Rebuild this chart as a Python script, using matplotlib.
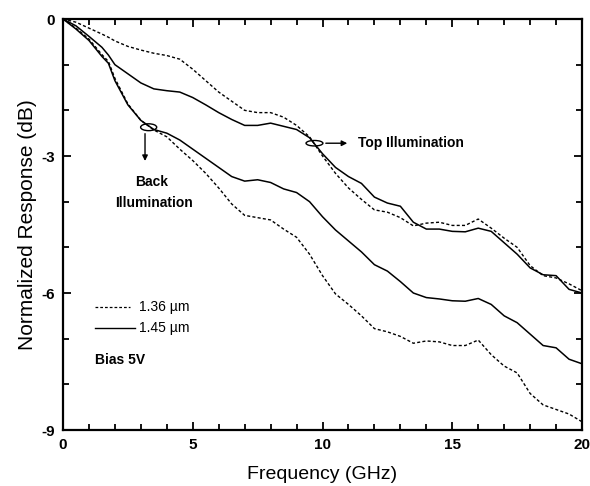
import matplotlib
matplotlib.use('Agg')
import matplotlib.pyplot as plt
from matplotlib.patches import Ellipse
from matplotlib.ticker import MultipleLocator

plt.rcParams['font.family'] = ['Liberation Sans', 'DejaVu Sans']
plt.rcParams['axes.unicode_minus'] = False

# Frequency grid (GHz)
freq = [0, 0.5, 1.0, 1.5, 1.75, 2.0, 2.5, 3.0, 3.5, 4.0, 4.5, 5.0, 5.5, 6.0, 6.5, 7.0,
        7.5, 8.0, 8.5, 9.0, 9.5, 10.0, 10.5, 11.0, 11.5, 12.0, 12.5, 13.0, 13.5,
        14.0, 14.5, 15.0, 15.5, 16.0, 16.5, 17.0, 17.5, 18.0, 18.5, 19.0, 19.5, 20.0]

# Top illumination
top_136 = [0, -0.07, -0.2, -0.33, -0.4, -0.48, -0.6, -0.68, -0.75, -0.8, -0.88, -1.1,
           -1.35, -1.6, -1.8, -2.0, -2.05, -2.05, -2.15, -2.33, -2.58, -3.0, -3.38,
           -3.7, -3.95, -4.18, -4.23, -4.35, -4.53, -4.47, -4.45, -4.52, -4.52, -4.38,
           -4.58, -4.8, -5.0, -5.4, -5.62, -5.67, -5.8, -5.95]
top_145 = [0, -0.15, -0.38, -0.62, -0.79, -1.0, -1.2, -1.4, -1.53, -1.57, -1.6, -1.72,
           -1.88, -2.05, -2.2, -2.33, -2.33, -2.28, -2.35, -2.42, -2.6, -2.95, -3.25,
           -3.45, -3.6, -3.9, -4.03, -4.1, -4.45, -4.6, -4.6, -4.65, -4.66, -4.58,
           -4.65, -4.9, -5.15, -5.45, -5.6, -5.62, -5.92, -6.0]

# Back illumination
back_136 = [0, -0.2, -0.44, -0.78, -0.93, -1.3, -1.86, -2.22, -2.43, -2.58, -2.85, -3.1,
            -3.38, -3.7, -4.05, -4.3, -4.35, -4.4, -4.6, -4.78, -5.15, -5.62, -6.02,
            -6.25, -6.5, -6.78, -6.85, -6.95, -7.1, -7.05, -7.07, -7.15, -7.15, -7.03,
            -7.35, -7.6, -7.75, -8.2, -8.45, -8.55, -8.65, -8.82]
back_145 = [0, -0.22, -0.47, -0.82, -0.97, -1.35, -1.88, -2.22, -2.42, -2.5, -2.65, -2.85,
            -3.05, -3.25, -3.45, -3.55, -3.52, -3.58, -3.72, -3.8, -4.0, -4.33, -4.62,
            -4.86, -5.1, -5.38, -5.52, -5.75, -6.0, -6.1, -6.13, -6.17, -6.18, -6.12,
            -6.25, -6.5, -6.65, -6.9, -7.15, -7.2, -7.45, -7.55]

dash = (0, (2.2, 1.6))

fig = plt.figure(figsize=(5.9, 4.86), dpi=100)
ax = fig.add_axes([0.1068, 0.1152, 0.8797, 0.8457])

ax.plot(freq, top_136, color='black', linewidth=1.0, linestyle=dash)
ax.plot(freq, top_145, color='black', linewidth=1.1)
ax.plot(freq, back_136, color='black', linewidth=1.0, linestyle=dash)
ax.plot(freq, back_145, color='black', linewidth=1.1)

# markers for the two groups of curves
ax.add_patch(Ellipse((3.3, -2.37), 0.62, 0.15, fill=False, edgecolor='black', linewidth=1.0))
ax.add_patch(Ellipse((9.69, -2.72), 0.65, 0.12, fill=False, edgecolor='black', linewidth=1.0))

ax.annotate('', xy=(3.16, -3.17), xytext=(3.16, -2.45),
            arrowprops=dict(arrowstyle='-|>', color='black', lw=1.0, mutation_scale=8))
ax.annotate('', xy=(11.06, -2.72), xytext=(10.02, -2.72),
            arrowprops=dict(arrowstyle='-|>', color='black', lw=1.0, mutation_scale=8))

ax.text(11.37, -2.72, 'Top Illumination', fontsize=10, fontweight='bold', ha='left', va='center')
ax.text(3.4, -3.57, 'Back', fontsize=10, fontweight='bold', ha='center', va='center')
ax.text(3.5, -4.03, 'Illumination', fontsize=10, fontweight='bold', ha='center', va='center')

# legend drawn by hand, like the original
ax.plot([1.23, 2.58], [-6.31, -6.31], color='black', linewidth=0.9, linestyle=dash)
ax.plot([1.23, 2.77], [-6.77, -6.77], color='black', linewidth=1.0)
ax.text(2.93, -6.31, '1.36 \u00b5m', fontsize=10, ha='left', va='center')
ax.text(2.93, -6.77, '1.45 \u00b5m', fontsize=10, ha='left', va='center')
ax.text(1.23, -7.47, 'Bias 5V', fontsize=10, fontweight='bold', ha='left', va='center')

ax.set_xlim(0, 20)
ax.set_ylim(-9, 0)
ax.xaxis.set_major_locator(MultipleLocator(5))
ax.xaxis.set_minor_locator(MultipleLocator(1))
ax.yaxis.set_major_locator(MultipleLocator(3))
ax.yaxis.set_minor_locator(MultipleLocator(1))
ax.tick_params(which='both', direction='in', top=True, right=True, width=1.3)
ax.tick_params(which='major', length=6, labelsize=11, pad=6)
ax.tick_params(which='minor', length=4)
for lab in ax.get_xticklabels() + ax.get_yticklabels():
    lab.set_fontweight('bold')
for sp in ax.spines.values():
    sp.set_linewidth(1.6)

ax.set_xlabel('Frequency (GHz)', fontsize=14, labelpad=10)
ax.set_ylabel('Normalized Response (dB)', fontsize=15, labelpad=3)

plt.savefig('out.png', dpi=100)
